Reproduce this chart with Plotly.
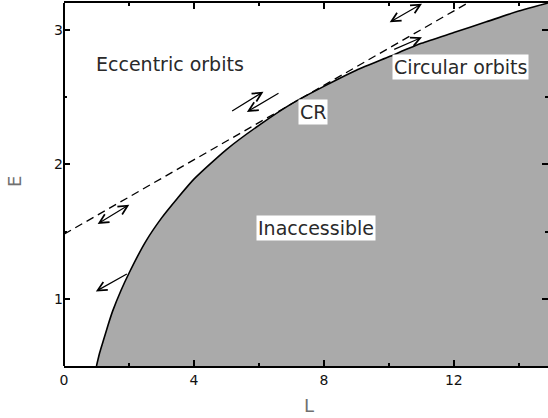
import plotly.graph_objects as go

# Circular-orbit curve E(L)
L_curve = [1.0, 1.1, 1.2, 1.35, 1.5, 1.75, 2.0, 2.5, 3.0, 3.5, 4.0, 5.0, 6.0, 7.0, 8.0,
           9.0, 10.0, 11.0, 12.0, 13.0, 14.0, 14.9, 15.0]
E_curve = [0.50, 0.60, 0.68, 0.80, 0.91, 1.06, 1.19, 1.42, 1.60, 1.75, 1.89, 2.11, 2.29,
           2.45, 2.58, 2.70, 2.80, 2.90, 2.98, 3.06, 3.14, 3.20, 3.21]

# Dashed tangent line through corotation
L_dash = [0.0, 12.5]
E_dash = [1.48, 3.21]

# Text labels
label_text = ["Eccentric orbits", "Circular orbits", "CR", "Inaccessible"]
label_L = [3.27, 12.2, 7.66, 7.76]
label_E = [2.745, 2.725, 2.39, 1.53]
label_box = [False, True, True, True]

# Arrows: tail (L, E) -> head (L, E), double-headed flag
arrow_tail_L = [9.98, 10.12, 5.13, 6.65, 0.99, 1.98]
arrow_tail_E = [3.05, 2.85, 2.39, 2.535, 1.55, 1.19]
arrow_head_L = [11.02, 11.02, 6.14, 5.63, 2.01, 0.98]
arrow_head_E = [3.195, 2.945, 2.54, 2.39, 1.70, 1.055]
arrow_double = [True, False, False, False, True, False]

x_ticks = [0, 4, 8, 12]
y_ticks = [1, 2, 3]

fig = go.Figure()
fig.add_trace(go.Scatter(x=L_curve, y=E_curve, mode="lines", fill="tozeroy",
                         fillcolor="#aaaaaa", line=dict(color="black", width=1.6,
                         shape="spline", smoothing=0.6), hoverinfo="skip"))
fig.add_trace(go.Scatter(x=L_dash, y=E_dash, mode="lines",
                         line=dict(color="black", width=1.3, dash="8px,5px"),
                         hoverinfo="skip"))

font_lab = dict(family="DejaVu Sans", size=19, color="#2a2a2a")
for t, x, y, box in zip(label_text, label_L, label_E, label_box):
    fig.add_annotation(x=x, y=y, xref="x", yref="y", text=t, showarrow=False,
                       font=font_lab, bgcolor="white" if box else None,
                       borderpad=1)

for tx, ty, hx, hy, dbl in zip(arrow_tail_L, arrow_tail_E, arrow_head_L,
                               arrow_head_E, arrow_double):
    fig.add_annotation(x=hx, y=hy, ax=tx, ay=ty, xref="x", yref="y", axref="x",
                       ayref="y", text="", showarrow=True, arrowhead=5,
                       arrowsize=1.5, arrowwidth=1.2, arrowcolor="black",
                       startarrowhead=5, startarrowsize=1.5,
                       arrowside="end+start" if dbl else "end",
                       standoff=0, startstandoff=0)

# axis titles
fig.add_annotation(x=0.506, y=-0.11, xref="paper", yref="paper", text="L",
                   xanchor="center", yanchor="middle",
                   showarrow=False, font=dict(family="DejaVu Sans", size=18, color="#707070"))
fig.add_annotation(x=-0.101, y=0.507, xref="paper", yref="paper", text="E",
                   xanchor="center", yanchor="middle",
                   textangle=-90, showarrow=False,
                   font=dict(family="DejaVu Sans", size=18, color="#707070"))

# left frame line
fig.add_shape(type="line", xref="paper", yref="paper", x0=0, x1=0, y0=0, y1=1,
              line=dict(color="black", width=2), layer="above")

tickfont = dict(family="DejaVu Sans", size=14, color="#111111")
fig.update_xaxes(range=[0, 14.9], tickvals=x_ticks, ticktext=[str(v) for v in x_ticks],
                 ticks="inside", ticklen=6, tickwidth=1.5, tickcolor="black",
                 showline=True, linecolor="black", linewidth=2, mirror="ticks",
                 showgrid=False, zeroline=False, tickfont=tickfont,
                 minor=dict(tickvals=[2, 6, 10, 14], ticks="inside", ticklen=3,
                            tickwidth=1.5, tickcolor="black", showgrid=False))
fig.update_yaxes(range=[0.5, 3.2], tickvals=y_ticks, ticktext=[str(v) for v in y_ticks],
                 ticks="inside", ticklen=6, tickwidth=1.5, tickcolor="black",
                 showline=False, mirror="ticks",
                 showgrid=False, zeroline=False, tickfont=tickfont,
                 minor=dict(tickvals=[1.5, 2.5], ticks="inside", ticklen=3,
                            tickwidth=1.5, tickcolor="black", showgrid=False))

fig.update_layout(width=548, height=418, showlegend=False,
                  margin=dict(l=64, r=0, t=3, b=52),
                  paper_bgcolor="white", plot_bgcolor="white")

fig.write_html("out.html", config={"displayModeBar": False},
               post_script="document.body.style.margin='0px';"
                           "document.body.style.overflow='hidden';")
